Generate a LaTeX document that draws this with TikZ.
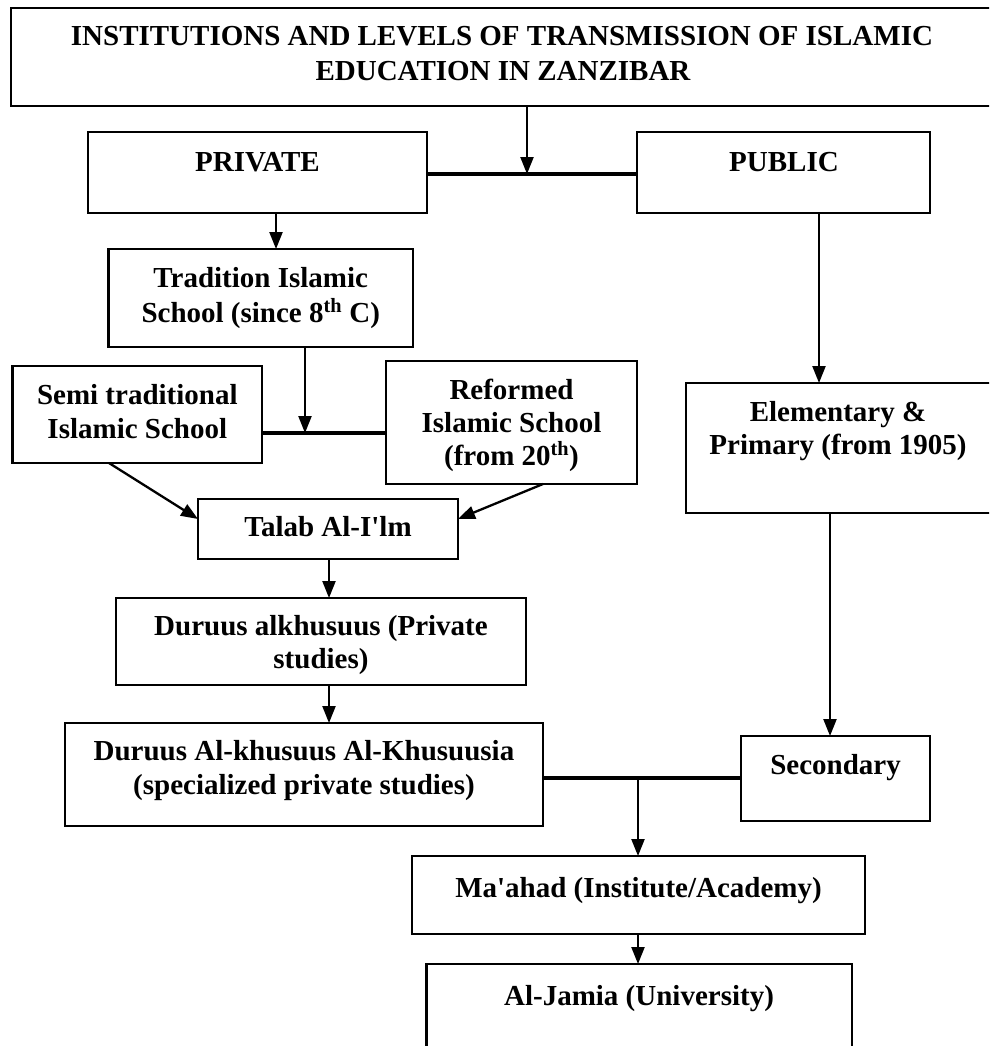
\documentclass[tikz,border=0pt]{standalone}
\usepackage{fontspec}
\setmainfont{Liberation Serif}[Ligatures=TeXOff]
\usetikzlibrary{arrows.meta}
\begin{document}
\begin{tikzpicture}[x=1pt,y=-1pt,
  box/.style={draw=black,line width=2.4pt,rectangle,inner sep=0pt,outer sep=0pt},
  lbl/.style={anchor=base,inner sep=0pt,font=\fontsize{29}{35}\selectfont\bfseries},
  arr/.style={line width=2.3pt,-{Triangle[length=17pt,width=13pt]}},
  link/.style={line width=4pt}]
\useasboundingbox (0,0) rectangle (989,1046);
\clip (0,0) rectangle (989,1046);
\fill[white] (0,0) rectangle (989,1046);
% boxes
\node[box,minimum width=985pt,minimum height=98pt] (title) at (503.5,57) {};
\node[box,minimum width=339pt,minimum height=81pt] (priv) at (257.5,172.5) {};
\node[box,minimum width=293pt,minimum height=81pt] (pub) at (783.5,172.5) {};
\node[box,minimum width=304.5pt,minimum height=98pt] (trad) at (260.75,298) {};
\node[box,minimum width=249.4pt,minimum height=97pt] (semi) at (137.3,414.5) {};
\node[box,minimum width=251pt,minimum height=123pt] (ref) at (511.5,422.5) {};
\node[box,minimum width=310pt,minimum height=130pt] (elem) at (841,448) {};
\node[box,minimum width=260pt,minimum height=60pt] (talab) at (328,529) {};
\node[box,minimum width=410pt,minimum height=87pt] (dur) at (321,641.5) {};
\node[box,minimum width=478pt,minimum height=103pt] (dak) at (304,774.5) {};
\node[box,minimum width=189pt,minimum height=85pt] (sec) at (835.5,778.5) {};
\node[box,minimum width=453pt,minimum height=78pt] (mah) at (638.5,895) {};
\node[box,minimum width=425.5pt,minimum height=120pt] (jam) at (639.25,1024) {};
% labels
\node[lbl] (tl1) at (502,46) {INSTITUTIONS AND LEVELS OF TRANSMISSION OF ISLAMIC};
\node[lbl] (tl2) at (503,81) {EDUCATION IN ZANZIBAR};
\node[lbl] (pl) at (257.5,171) {PRIVATE};
\node[lbl] (ul) at (784,171) {PUBLIC};
\node[lbl] (trl1) at (260.75,287) {Tradition Islamic};
\node[lbl] (trl2) at (260.75,322) {School (since 8\textsuperscript{th} C)};
\node[lbl] (sl1) at (137.3,404) {Semi traditional};
\node[lbl] (sl2) at (137.3,438) {Islamic School};
\node[lbl] (rl1) at (511.5,399) {Reformed};
\node[lbl] (rl2) at (511.5,432) {Islamic School};
\node[lbl] (rl3) at (511.5,465) {(from 20\textsuperscript{th})};
\node[lbl] (el1) at (838,421) {Elementary \&};
\node[lbl] (el2) at (838,454) {Primary (from 1905)};
\node[lbl] (tal) at (328,536) {Talab Al-I'lm};
\node[lbl] (dl1) at (321,635) {Duruus alkhusuus (Private};
\node[lbl] (dl2) at (321,668) {studies)};
\node[lbl] (kl1) at (304,760) {Duruus Al-khusuus Al-Khusuusia};
\node[lbl] (kl2) at (304,794) {(specialized private studies)};
\node[lbl] (scl) at (835.5,774) {Secondary};
\node[lbl] (ml) at (638.5,897) {Ma'ahad (Institute/Academy)};
\node[lbl] (jl) at (639,1005) {Al-Jamia (University)};
% junction coordinates
\coordinate (j1) at (527,174);
\coordinate (xp) at (276,0);
\coordinate (xu) at (819,0);
\coordinate (j2) at (305,433);
\coordinate (xt) at (329,0);
\coordinate (xe) at (830,0);
\coordinate (j3) at (638,778);
\coordinate (s1) at (109,463);
\coordinate (s2) at (197,519);
\coordinate (r1) at (543,484);
\coordinate (r2) at (459,519);
% connectors
\draw[arr] (title.south -| j1) -- (j1);
\draw[link] (priv.east |- j1) -- (pub.west |- j1);
\draw[arr] (priv.south -| xp) -- (trad.north -| xp);
\draw[arr] (pub.south -| xu) -- (elem.north -| xu);
\draw[arr] (trad.south -| j2) -- (j2);
\draw[link] (semi.east |- j2) -- (ref.west |- j2);
\draw[arr] (semi.south -| s1) -- (talab.west |- s2);
\draw[arr] (ref.south -| r1) -- (talab.east |- r2);
\draw[arr] (talab.south -| xt) -- (dur.north -| xt);
\draw[arr] (dur.south -| xt) -- (dak.north -| xt);
\draw[arr] (elem.south -| xe) -- (sec.north -| xe);
\draw[link] (dak.east |- j3) -- (sec.west |- j3);
\draw[arr] (j3) -- (mah.north -| j3);
\draw[arr] (mah.south -| j3) -- (jam.north -| j3);
\end{tikzpicture}
\end{document}
